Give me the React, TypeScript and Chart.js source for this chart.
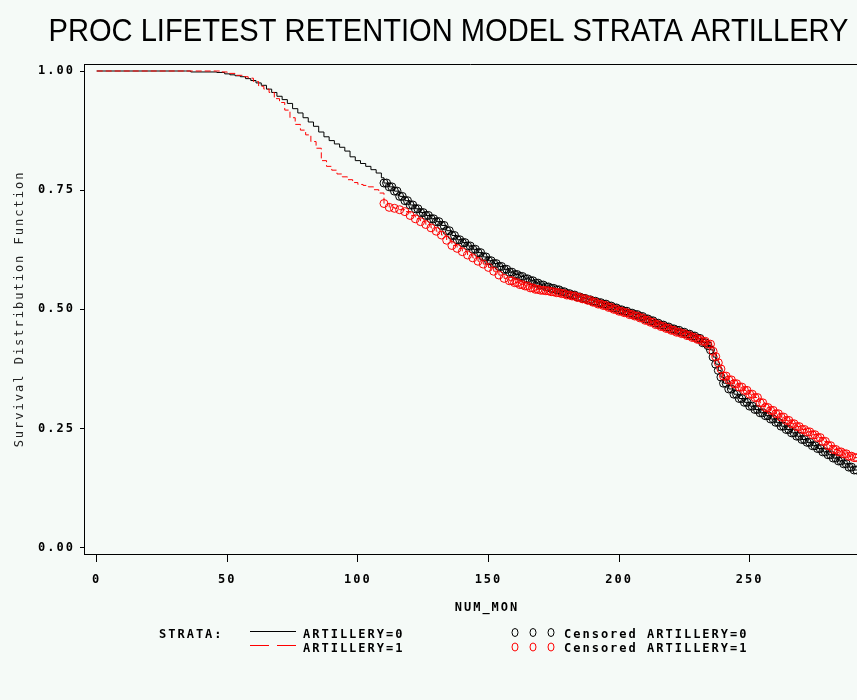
import React, { useEffect, useRef } from 'react';
import { Chart, registerables } from 'chart.js';

Chart.register(...registerables);

const TITLE = 'PROC LIFETEST RETENTION MODEL STRATA ARTILLERY';
const Y_TITLE = 'Survival Distribution Function';
const X_TITLE = 'NUM_MON';
const Y_TICKS = [0, 0.25, 0.5, 0.75, 1];
const X_TICKS = [0, 50, 100, 150, 200, 250];
const LEGEND_HEAD = 'STRATA:';
const SERIES_NAMES = ['ARTILLERY=0', 'ARTILLERY=1'];
const CENSOR_NAMES = ['Censored ARTILLERY=0', 'Censored ARTILLERY=1'];
const COLORS = ['#000000', '#ff0000'];
const BG = '#f5faf7';

// ARTILLERY=0 : Kaplan-Meier step curve (months, survival)
const months0 = [
  0, 34, 36, 46, 49, 51, 53, 55, 57, 59, 61, 63, 65, 67, 69, 71, 73, 75, 77, 79, 81, 83, 85, 87, 89, 91, 93, 95, 97, 99,
  101, 103, 105, 107, 109, 110, 112, 114, 116, 118, 120, 122, 124, 126, 128, 130, 132, 134, 136, 138, 140, 142, 144,
  146, 148, 150, 152, 154, 156, 158, 160, 162, 164, 166, 168, 170, 172, 174, 176, 178, 180, 182, 184, 186, 188, 190,
  192, 194, 196, 198, 200, 202, 204, 206, 208, 210, 212, 214, 216, 218, 220, 222, 224, 226, 228, 230, 232, 234, 235,
  236, 237, 238, 239, 240, 242, 244, 246, 248, 250, 252, 254, 256, 258, 260, 262, 264, 266, 268, 270, 272, 274, 276,
  278, 280, 282, 284, 286, 288, 290, 292,
];
const surv0 = [
  1.0, 1.0, 0.998, 0.997, 0.994, 0.992, 0.99, 0.988, 0.984, 0.98, 0.975, 0.97, 0.962, 0.955, 0.947, 0.94, 0.932, 0.921,
  0.912, 0.902, 0.893, 0.884, 0.872, 0.862, 0.854, 0.847, 0.84, 0.832, 0.82, 0.812, 0.806, 0.8, 0.793, 0.786, 0.776,
  0.765, 0.757, 0.748, 0.737, 0.728, 0.719, 0.711, 0.703, 0.697, 0.69, 0.684, 0.676, 0.665, 0.655, 0.646, 0.64, 0.633,
  0.626, 0.619, 0.61, 0.602, 0.596, 0.59, 0.584, 0.578, 0.573, 0.569, 0.564, 0.56, 0.555, 0.551, 0.547, 0.544, 0.541,
  0.537, 0.533, 0.53, 0.526, 0.523, 0.52, 0.517, 0.514, 0.511, 0.507, 0.503, 0.499, 0.496, 0.492, 0.489, 0.485, 0.48,
  0.476, 0.471, 0.467, 0.463, 0.459, 0.456, 0.452, 0.448, 0.444, 0.439, 0.43, 0.424, 0.415, 0.4, 0.385, 0.372, 0.358,
  0.345, 0.333, 0.322, 0.313, 0.305, 0.297, 0.29, 0.283, 0.277, 0.27, 0.263, 0.255, 0.248, 0.241, 0.234, 0.227, 0.221,
  0.214, 0.208, 0.201, 0.195, 0.188, 0.182, 0.176, 0.169, 0.163, 0.16,
];
// ARTILLERY=0 : months at which censored observations are marked
const censorMonths0 = [
  110, 111, 112, 113, 114, 115, 116, 117, 118, 119, 120, 121, 122, 123, 124, 125, 126, 127, 128, 129, 130, 131, 132,
  133, 134, 135, 136, 137, 138, 139, 140, 141, 142, 143, 144, 145, 146, 147, 148, 149, 150, 151, 152, 153, 154, 155,
  156, 157, 158, 159, 160, 161, 162, 163, 164, 165, 166, 167, 168, 169, 170, 171, 172, 173, 174, 175, 176, 177, 178,
  179, 180, 181, 182, 183, 184, 185, 186, 187, 188, 189, 190, 191, 192, 193, 194, 195, 196, 197, 198, 199, 200, 201,
  202, 203, 204, 205, 206, 207, 208, 209, 210, 211, 212, 213, 214, 215, 216, 217, 218, 219, 220, 221, 222, 223, 224,
  225, 226, 227, 228, 229, 230, 231, 232, 233, 234, 235, 236, 237, 238, 239, 240, 241, 242, 243, 244, 245, 246, 247,
  248, 249, 250, 251, 252, 253, 254, 255, 256, 257, 258, 259, 260, 261, 262, 263, 264, 265, 266, 267, 268, 269, 270,
  271, 272, 273, 274, 275, 276, 277, 278, 279, 280, 281, 282, 283, 284, 285, 286, 287, 288, 289, 290, 291,
];

// ARTILLERY=1 : Kaplan-Meier step curve (months, survival)
const months1 = [
  0, 46, 48, 50, 53, 56, 58, 60, 62, 64, 66, 68, 70, 72, 74, 76, 78, 80, 82, 84, 86, 88, 90, 92, 94, 96, 98, 100, 102,
  104, 106, 108, 110, 112, 114, 116, 118, 120, 122, 124, 126, 128, 130, 132, 134, 136, 138, 140, 142, 144, 146, 148,
  150, 152, 154, 156, 158, 160, 162, 164, 166, 168, 170, 172, 174, 176, 178, 180, 182, 184, 186, 188, 190, 192, 194,
  196, 198, 200, 202, 204, 206, 208, 210, 212, 214, 216, 218, 220, 222, 224, 226, 228, 230, 232, 234, 236, 237, 238,
  239, 240, 242, 244, 246, 248, 250, 252, 254, 256, 258, 260, 262, 264, 266, 268, 270, 272, 274, 276, 278, 280, 282,
  284, 286, 288, 290, 292,
];
const surv1 = [
  1.0, 1.0, 0.998, 0.995, 0.991, 0.988, 0.985, 0.978, 0.968, 0.962, 0.955, 0.942, 0.934, 0.918, 0.902, 0.888, 0.876,
  0.866, 0.852, 0.838, 0.812, 0.8, 0.792, 0.784, 0.778, 0.772, 0.766, 0.762, 0.76, 0.757, 0.751, 0.744, 0.722, 0.714,
  0.712, 0.709, 0.705, 0.697, 0.69, 0.684, 0.678, 0.671, 0.664, 0.656, 0.645, 0.634, 0.628, 0.621, 0.614, 0.608, 0.601,
  0.595, 0.588, 0.58, 0.572, 0.565, 0.56, 0.556, 0.552, 0.549, 0.545, 0.542, 0.54, 0.539, 0.537, 0.535, 0.533, 0.53,
  0.528, 0.525, 0.522, 0.519, 0.515, 0.511, 0.508, 0.504, 0.5, 0.496, 0.493, 0.489, 0.486, 0.482, 0.477, 0.473, 0.468,
  0.464, 0.46, 0.456, 0.452, 0.449, 0.445, 0.441, 0.437, 0.433, 0.427, 0.412, 0.401, 0.388, 0.375, 0.36, 0.352, 0.344,
  0.337, 0.33, 0.322, 0.315, 0.304, 0.294, 0.288, 0.281, 0.274, 0.267, 0.26, 0.254, 0.248, 0.243, 0.237, 0.231, 0.223,
  0.214, 0.206, 0.201, 0.197, 0.192, 0.189, 0.187,
];
// ARTILLERY=1 : months at which censored observations are marked
const censorMonths1 = [
  110, 112, 114, 116, 118, 120, 122, 124, 126, 128, 130, 132, 134, 136, 138, 140, 142, 144, 146, 148, 150, 152, 154,
  156, 158, 159, 160, 161, 162, 163, 164, 165, 166, 167, 168, 169, 170, 171, 172, 173, 174, 175, 176, 177, 178, 179,
  180, 181, 182, 183, 184, 185, 186, 187, 188, 189, 190, 191, 192, 193, 194, 195, 196, 197, 198, 199, 200, 201, 202,
  203, 204, 205, 206, 207, 208, 209, 210, 211, 212, 213, 214, 215, 216, 217, 218, 219, 220, 221, 222, 223, 224, 225,
  226, 227, 228, 229, 230, 231, 232, 233, 234, 235, 236, 237, 238, 239, 240, 241, 242, 243, 244, 245, 246, 247, 248,
  249, 250, 251, 252, 253, 254, 255, 256, 257, 258, 259, 260, 261, 262, 263, 264, 265, 266, 267, 268, 269, 270, 271,
  272, 273, 274, 275, 276, 277, 278, 279, 280, 281, 282, 283, 284, 285, 286, 287, 288, 289, 290, 291,
];

const X_MIN = -4.86;
const X_MAX = 291.1;
const Y_MIN = -0.0132;
const Y_MAX = 1.0147;

function toPoints(ts: number[], ss: number[]) {
  return ts.map((t, i) => ({ x: t, y: ss[i] }));
}
// value of the Kaplan-Meier step curve at month t (censor marks sit on the curve)
function kmAt(ts: number[], ss: number[], t: number) {
  let v = ss[0];
  for (let i = 0; i < ts.length; i++) if (ts[i] <= t) v = ss[i];
  return v;
}
function censorPoints(cm: number[], ts: number[], ss: number[]) {
  return cm.map((t) => ({ x: t, y: kmAt(ts, ss, t) }));
}

const MONO = '"DejaVu Sans Mono", monospace';
const SPACING = '2px';

const decorPlugin = {
  id: 'decor',
  beforeDraw(chart: any) {
    const ctx = chart.ctx;
    ctx.save();
    ctx.fillStyle = BG;
    ctx.fillRect(0, 0, chart.width, chart.height);
    ctx.restore();
    ctx.letterSpacing = SPACING;
  },
  afterDraw(chart: any) {
    const ctx = chart.ctx;
    const { left, right, top } = chart.chartArea;
    ctx.save();
    // top frame line
    ctx.strokeStyle = '#000';
    ctx.lineWidth = 1;
    ctx.setLineDash([]);
    ctx.beginPath();
    ctx.moveTo(left, Math.round(top) + 0.5);
    ctx.lineTo(right, Math.round(top) + 0.5);
    ctx.stroke();

    // main title
    ctx.letterSpacing = '0px';
    ctx.font = '31px "Liberation Sans", Arial, sans-serif';
    ctx.fillStyle = '#000';
    ctx.textAlign = 'center';
    ctx.textBaseline = 'alphabetic';
    const w = ctx.measureText(TITLE).width;
    ctx.save();
    ctx.translate(448.5, 40.5);
    ctx.scale(800 / w, 1);
    ctx.fillText(TITLE, 0, 0);
    ctx.restore();

    // x title and legend
    ctx.letterSpacing = SPACING;
    ctx.font = 'bold 12px ' + MONO;
    ctx.textBaseline = 'middle';
    ctx.textAlign = 'center';
    ctx.fillText(X_TITLE, 487, 608);

    ctx.textAlign = 'left';
    ctx.fillText(LEGEND_HEAD, 159, 635);
    const rows = [634.5, 648.5];
    const lineY = [631.5, 645.5];
    const circY = [632.5, 647];
    for (let i = 0; i < 2; i++) {
      ctx.fillStyle = '#000';
      ctx.fillText(SERIES_NAMES[i], 303, rows[i]);
      ctx.fillText(CENSOR_NAMES[i], 564, rows[i]);
      ctx.strokeStyle = COLORS[i];
      ctx.lineWidth = 1;
      ctx.setLineDash(i === 0 ? [] : [19, 8]);
      ctx.beginPath();
      ctx.moveTo(250, lineY[i]);
      ctx.lineTo(296, lineY[i]);
      ctx.stroke();
      ctx.setLineDash([]);
      for (const cx of [515, 533, 551]) {
        ctx.beginPath();
        ctx.ellipse(cx, circY[i], 3, 4, 0, 0, Math.PI * 2);
        ctx.stroke();
      }
    }
    ctx.restore();
  },
};

export default function App() {
  const ref = useRef<HTMLCanvasElement | null>(null);

  useEffect(() => {
    document.body.style.margin = '0';
    document.body.style.background = BG;
    if (!ref.current) return;
    const tickFont = { family: MONO, size: 12, weight: 'bold' as const };
    const chart = new Chart(ref.current, {
      type: 'line',
      data: {
        datasets: [
          {
            label: CENSOR_NAMES[1],
            data: censorPoints(censorMonths1, months1, surv1),
            showLine: false,
            pointRadius: 4,
            pointBorderWidth: 1,
            pointBorderColor: COLORS[1],
            pointBackgroundColor: 'rgba(0,0,0,0)',
            order: 1,
          },
          {
            label: SERIES_NAMES[1],
            data: toPoints(months1, surv1),
            stepped: true,
            borderColor: COLORS[1],
            borderWidth: 1,
            borderDash: [6, 3],
            pointRadius: 0,
            fill: false,
            order: 2,
          },
          {
            label: CENSOR_NAMES[0],
            data: censorPoints(censorMonths0, months0, surv0),
            showLine: false,
            pointRadius: 4,
            pointBorderWidth: 1,
            pointBorderColor: COLORS[0],
            pointBackgroundColor: 'rgba(0,0,0,0)',
            order: 3,
          },
          {
            label: SERIES_NAMES[0],
            data: toPoints(months0, surv0),
            stepped: true,
            borderColor: COLORS[0],
            borderWidth: 1,
            pointRadius: 0,
            fill: false,
            order: 4,
          },
        ],
      },
      options: {
        responsive: false,
        animation: false,
        devicePixelRatio: 1,
        layout: { autoPadding: false, padding: { top: 64, left: 0, right: 0, bottom: 106 } },
        plugins: {
          legend: { display: false },
          tooltip: { enabled: false },
          title: { display: false },
        },
        scales: {
          x: {
            type: 'linear',
            min: X_MIN,
            max: X_MAX,
            afterBuildTicks: (s: any) => {
              s.ticks = X_TICKS.map((v) => ({ value: v }));
            },
            afterFit: (s: any) => {
              s.height = 40;
              s.paddingLeft = 0;
              s.paddingRight = 0;
            },
            grid: { drawOnChartArea: false, drawTicks: true, tickLength: 8, color: '#000', lineWidth: 1 },
            border: { display: true, color: '#000', width: 1 },
            ticks: { color: '#000', font: tickFont, padding: 10.5, maxRotation: 0, autoSkip: false, callback: (v: any) => String(v) },
          },
          y: {
            type: 'linear',
            min: Y_MIN,
            max: Y_MAX,
            afterBuildTicks: (s: any) => {
              s.ticks = Y_TICKS.map((v) => ({ value: v }));
            },
            afterFit: (s: any) => {
              s.width = 84;
              s.paddingTop = 0;
              s.paddingBottom = 0;
            },
            grid: { drawOnChartArea: false, drawTicks: true, tickLength: 4, color: '#000', lineWidth: 1 },
            border: { display: true, color: '#000', width: 1 },
            ticks: { color: '#000', font: tickFont, padding: 5, autoSkip: false, callback: (v: any) => Number(v).toFixed(2) },
            title: {
              display: true,
              text: Y_TITLE,
              color: '#222',
              font: { family: MONO, size: 12, weight: 'normal' as const },
              padding: { top: 13, bottom: 0 },
            },
          },
        },
      },
      plugins: [decorPlugin],
    } as any);
    return () => chart.destroy();
  }, []);

  return (
    <div style={{ width: 857, height: 700, background: BG }}>
      <canvas ref={ref} width={857} height={700} style={{ display: 'block' }} />
    </div>
  );
}
